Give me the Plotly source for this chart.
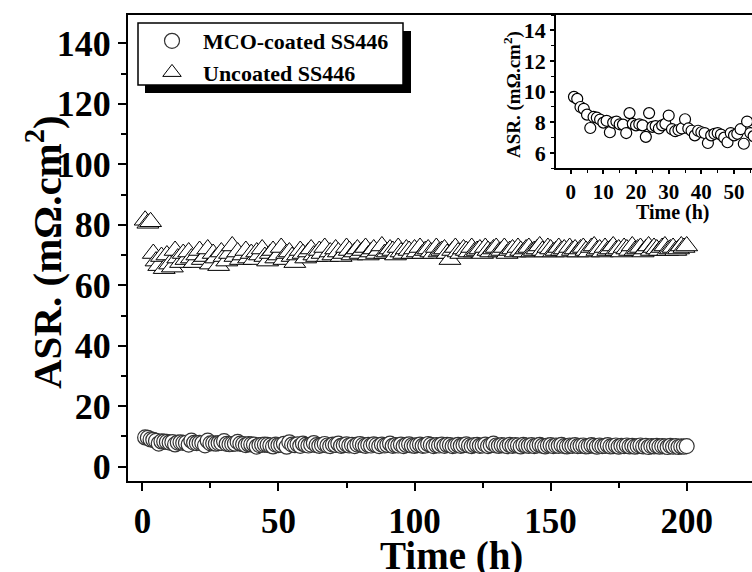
import plotly.graph_objects as go

# ---------------- data ----------------
time_h = list(range(1, 201))

asr_coated = [
    9.66, 9.53, 9.00, 8.88, 8.50, 7.63, 8.35, 8.30, 8.18, 7.98,
    8.10, 7.35, 7.98, 8.05, 7.87, 7.85, 7.30, 8.60, 7.90, 7.80,
    7.87, 7.80, 7.05, 8.60, 7.70, 7.75, 7.60, 7.80, 7.90, 8.44,
    7.55, 7.42, 7.50, 7.60, 8.20, 7.60, 7.45, 7.15, 7.45, 7.35,
    7.30, 6.65, 7.15, 7.25, 7.30, 7.20, 7.00, 6.70, 7.30, 7.15,
    7.25, 7.55, 6.60, 8.05, 7.30,
    7.1, 7.4, 6.9, 7.6, 7.2, 7.0, 7.3, 7.8, 7.1, 6.9, 7.2, 7.5, 7.0, 6.8, 7.3,
    7.2, 7.6, 6.9, 7.1, 7.4, 7.0, 7.2, 6.8, 7.3, 7.5, 7.1, 6.9, 7.2, 7.0, 7.4,
    7.1, 6.8, 7.3, 7.0, 7.2, 7.6, 6.9, 7.1, 7.0, 7.3, 6.8, 7.2, 7.4, 7.0, 6.9,
    7.1, 7.3, 6.9, 7.0, 7.5, 7.2, 6.8, 7.1, 7.0, 7.3, 6.9, 7.2, 7.1, 6.8, 7.0,
    7.2, 6.9, 7.1, 7.4, 7.0, 6.8, 7.1, 7.2, 6.9, 7.0, 7.3, 6.8, 7.1, 7.6, 7.0,
    6.9, 7.1, 7.0, 6.8, 7.2, 6.9, 7.1, 7.0, 6.7, 7.2, 7.0, 6.9, 7.1, 6.8, 7.0,
    7.2, 6.9, 6.7, 7.0, 7.1, 6.8, 7.0, 6.9, 7.2, 6.8, 6.7, 7.0, 6.9, 7.1, 6.8,
    6.9, 7.0, 6.7, 6.8, 7.1, 6.9, 6.6, 7.0, 6.8, 6.9, 7.1, 6.7, 6.8, 7.0, 6.6,
    6.9, 6.8, 7.0, 6.7, 6.9, 6.6, 6.8, 7.0, 6.7, 6.9, 6.5, 6.8, 6.7, 6.9, 6.6,
    6.8, 6.7, 6.5, 6.9, 6.6, 6.8, 6.5, 6.7, 6.6, 6.8,
]

asr_uncoated = [
    81.5, 80.5, 81.0,
    70.5, 68.0, 66.5, 69.5, 65.5, 70.0, 67.0, 66.0, 71.5, 69.0, 67.5, 70.5, 68.5, 71.0, 69.0, 67.5, 70.0,
    71.5, 68.5, 69.5, 72.0, 67.0, 70.5, 69.0, 66.5, 71.0, 69.5, 68.0, 70.5, 73.0, 69.5, 71.0, 68.5, 70.0, 71.5, 69.0, 70.5,
    68.5, 71.0, 70.0, 72.0, 69.5, 68.0, 70.5, 71.5, 69.0, 70.0, 72.5, 68.5, 70.5, 71.0, 69.5, 67.5, 70.0, 71.5, 70.5, 69.0,
    71.0, 72.0, 70.0, 69.5, 71.5, 70.5, 72.5, 69.5, 71.0, 70.0, 72.0, 71.0, 69.5, 70.5, 72.5, 71.5, 70.0, 71.0, 72.0, 70.5,
    71.5, 72.5, 70.0, 71.0, 72.0, 70.5, 71.5, 73.0, 70.5, 71.0, 72.0, 71.5, 70.0, 72.5, 71.0, 70.5, 72.0, 71.5, 70.5, 72.0,
    71.0, 72.5, 70.5, 71.5, 72.0, 71.0, 70.5, 72.5, 71.0, 71.5, 72.0, 70.5, 68.5, 71.5, 72.5, 71.0, 70.5, 72.0, 71.5, 71.0,
    72.5, 71.0, 71.5, 72.0, 70.5, 72.5, 71.5, 71.0, 72.0, 72.5, 71.0, 71.5, 72.5, 70.5, 71.5, 72.0, 71.0, 72.5, 71.5, 71.0,
    72.0, 72.5, 71.0, 71.5, 72.0, 73.0, 71.5, 71.0, 72.5, 72.0, 71.0, 71.5, 72.5, 71.5, 72.0, 71.0, 72.5, 71.5, 72.0, 71.0,
    72.0, 72.5, 71.5, 71.0, 72.5, 73.0, 71.5, 72.0, 71.0, 72.5, 71.5, 72.0, 73.0, 71.5, 72.0, 71.0, 72.5, 72.0, 71.5, 73.0,
    71.5, 72.0, 72.5, 71.0, 72.0, 73.0, 71.5, 72.5, 72.0, 71.5, 72.5, 73.0, 71.5, 72.0, 72.5, 71.5, 72.0, 73.0, 72.5, 73.0,
]

inset_hours = 56  # points shown in the inset window

series_names = ["MCO-coated SS446", "Uncoated SS446"]
main_xticks = [0, 50, 100, 150, 200]
main_yticks = [0, 20, 40, 60, 80, 100, 120, 140]
inset_xticks = [0, 10, 20, 30, 40, 50]
inset_yticks = [6, 8, 10, 12, 14]

# ---------------- layout helpers ----------------
W, H = 752, 572
L, R, T, B = 128, 0, 15, 91
PW, PH = W - L - R, H - T - B


def px(x):
    return (x - L) / PW


def py(y):
    return (H - B - y) / PH


FONT = "Liberation Serif"

fig = go.Figure()

fig.add_trace(go.Scatter(
    x=time_h, y=asr_coated, mode="markers", name=series_names[0],
    marker=dict(symbol="circle", size=15, color="white",
                line=dict(color="#333333", width=1.2)),
    xaxis="x", yaxis="y"))

fig.add_trace(go.Scatter(
    x=time_h, y=asr_uncoated, mode="markers", name=series_names[1],
    marker=dict(symbol="triangle-up", size=19, color="white",
                line=dict(color="black", width=1)),
    xaxis="x", yaxis="y"))

fig.add_trace(go.Scatter(
    x=time_h[:inset_hours], y=asr_coated[:inset_hours], mode="markers",
    showlegend=False,
    marker=dict(symbol="circle", size=11, color="white",
                line=dict(color="black", width=1.2)),
    xaxis="x2", yaxis="y2"))

axis_common = dict(showgrid=False, zeroline=False, showline=True,
                   linecolor="black", ticks="outside", tickcolor="black")

fig.update_layout(
    width=W, height=H,
    margin=dict(l=L, r=R, t=T, b=B),
    paper_bgcolor="white", plot_bgcolor="white",
    font=dict(family=FONT, color="black"),
    xaxis=dict(**axis_common, range=[-5.3, 224], tickvals=main_xticks,
               linewidth=2, tickwidth=2, ticklen=8, mirror=True,
               minor=dict(dtick=25, tick0=0, ticklen=5, tickwidth=2, ticks="outside", tickcolor="black"),
               tickfont=dict(family=FONT, size=35, weight="bold")),
    yaxis=dict(**axis_common, range=[-4.74, 149.4], tickvals=main_yticks,
               linewidth=2, tickwidth=2, ticklen=8,
               minor=dict(dtick=10, tick0=0, ticklen=5, tickwidth=2, ticks="outside", tickcolor="black"),
               tickfont=dict(family=FONT, size=36, weight="bold")),
    xaxis2=dict(**axis_common, domain=[px(556), 1.0], anchor="y2",
                range=[-4.5, 55.5], tickvals=inset_xticks,
                linewidth=1.5, tickwidth=1.5, ticklen=4,
                minor=dict(dtick=5, tick0=0, ticklen=3, tickwidth=1, ticks="outside", tickcolor="black"),
                tickfont=dict(family=FONT, size=21, weight="bold")),
    yaxis2=dict(**axis_common, domain=[py(168.3), 1.0], anchor="x2",
                range=[5, 15], tickvals=inset_yticks,
                linewidth=1.5, tickwidth=1.5, ticklen=4,
                minor=dict(dtick=1, tick0=0, ticklen=3, tickwidth=1, ticks="outside", tickcolor="black"),
                tickfont=dict(family=FONT, size=22, weight="bold")),
    legend=dict(x=px(141), y=py(20), xanchor="left", yanchor="top",
                bgcolor="rgba(0,0,0,0)", borderwidth=0,
                font=dict(family=FONT, size=22, weight="bold"),
                itemwidth=52, tracegroupgap=0),
    showlegend=True,
)

# legend frame with drop shadow
fig.add_shape(type="rect", xref="paper", yref="paper",
              x0=px(145), x1=px(411), y0=py(93), y1=py(31),
              fillcolor="black", line=dict(width=0), layer="above")
fig.add_shape(type="rect", xref="paper", yref="paper",
              x0=px(138), x1=px(403), y0=py(85), y1=py(23),
              fillcolor="white", line=dict(color="black", width=1.5), layer="above")

annos = [
    dict(text="Time (h)", x=px(451), y=py(556), font=dict(size=39)),
    dict(text="ASR. (mΩ.cm<sup>2</sup>)", x=px(44), y=py(252), textangle=-90, font=dict(size=41)),
    dict(text="Time (h)", x=px(673), y=py(212), font=dict(size=20)),
    dict(text="ASR. (mΩ.cm<sup>2</sup>)", x=px(512), y=py(95), textangle=-90, font=dict(size=19)),
]
for a in annos:
    f = dict(family=FONT, color="black", weight="bold")
    f.update(a.pop("font"))
    fig.add_annotation(xref="paper", yref="paper", showarrow=False,
                       xanchor="center", yanchor="middle", font=f, **a)

fig.write_html("out.html")
